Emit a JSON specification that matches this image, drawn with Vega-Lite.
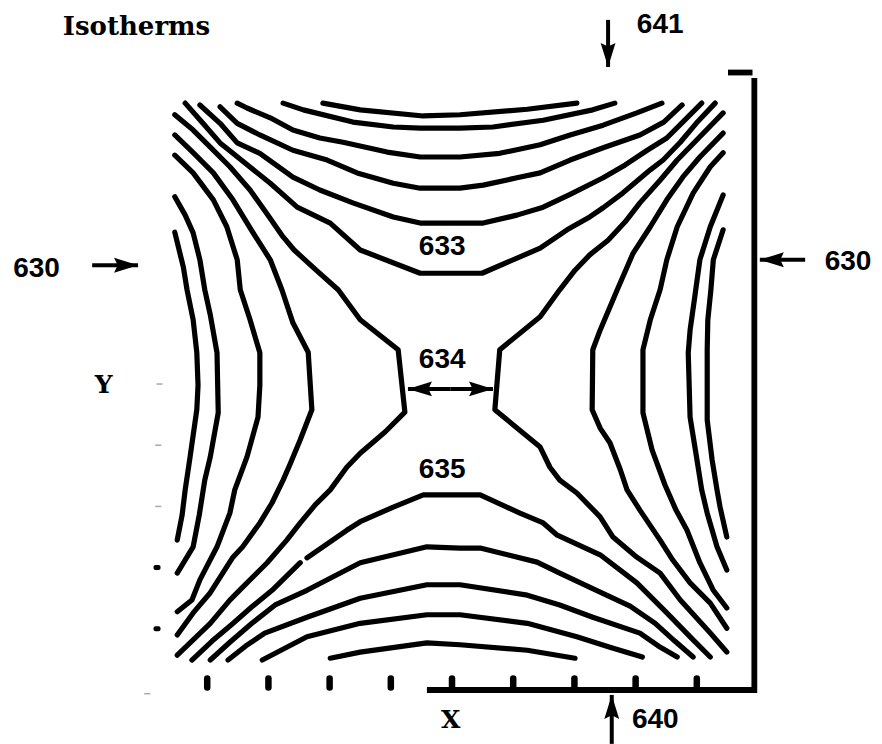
{
  "$schema": "https://vega.github.io/schema/vega-lite/v6.json",
  "width": 882,
  "height": 744,
  "padding": 0,
  "autosize": {"type": "none"},
  "background": "white",
  "config": {"view": {"stroke": null}},
  "datasets": {
    "isotherms": [
      {"curve":"t1","i":1,"x":2.89,"y":9.59},{"curve":"t1","i":2,"x":3.50,"y":9.48},{"curve":"t1","i":3,"x":4.53,"y":9.38},{"curve":"t1","i":4,"x":5.13,"y":9.40},{"curve":"t1","i":5,"x":6.23,"y":9.49},{"curve":"t1","i":6,"x":7.04,"y":9.59},
      {"curve":"t2","i":1,"x":2.24,"y":9.59},{"curve":"t2","i":2,"x":2.57,"y":9.48},{"curve":"t2","i":3,"x":3.38,"y":9.28},{"curve":"t2","i":4,"x":4.04,"y":9.20},{"curve":"t2","i":5,"x":4.48,"y":9.18},{"curve":"t2","i":6,"x":5.13,"y":9.18},{"curve":"t2","i":7,"x":5.67,"y":9.20},{"curve":"t2","i":8,"x":6.49,"y":9.31},{"curve":"t2","i":9,"x":7.30,"y":9.48},{"curve":"t2","i":10,"x":7.66,"y":9.59},
      {"curve":"t3","i":1,"x":1.49,"y":9.59},{"curve":"t3","i":2,"x":1.65,"y":9.51},{"curve":"t3","i":3,"x":2.03,"y":9.35},{"curve":"t3","i":4,"x":2.40,"y":9.15},{"curve":"t3","i":5,"x":2.84,"y":9.02},{"curve":"t3","i":6,"x":3.22,"y":8.95},{"curve":"t3","i":7,"x":3.94,"y":8.79},{"curve":"t3","i":8,"x":4.48,"y":8.71},{"curve":"t3","i":9,"x":5.13,"y":8.71},{"curve":"t3","i":10,"x":5.78,"y":8.77},{"curve":"t3","i":11,"x":6.44,"y":8.91},{"curve":"t3","i":12,"x":6.93,"y":9.07},{"curve":"t3","i":13,"x":7.47,"y":9.23},{"curve":"t3","i":14,"x":8.02,"y":9.43},{"curve":"t3","i":15,"x":8.43,"y":9.59},
      {"curve":"t4","i":1,"x":1.21,"y":9.53},{"curve":"t4","i":2,"x":1.49,"y":9.26},{"curve":"t4","i":3,"x":1.86,"y":9.07},{"curve":"t4","i":4,"x":2.40,"y":8.82},{"curve":"t4","i":5,"x":2.96,"y":8.66},{"curve":"t4","i":6,"x":3.45,"y":8.45},{"curve":"t4","i":7,"x":4.04,"y":8.28},{"curve":"t4","i":8,"x":4.48,"y":8.20},{"curve":"t4","i":9,"x":5.13,"y":8.20},{"curve":"t4","i":10,"x":5.51,"y":8.25},{"curve":"t4","i":11,"x":6.06,"y":8.37},{"curve":"t4","i":12,"x":6.44,"y":8.45},{"curve":"t4","i":13,"x":6.93,"y":8.66},{"curve":"t4","i":14,"x":7.47,"y":8.86},{"curve":"t4","i":15,"x":8.07,"y":9.07},{"curve":"t4","i":16,"x":8.46,"y":9.28},{"curve":"t4","i":17,"x":8.76,"y":9.56},
      {"curve":"t5","i":1,"x":0.88,"y":9.56},{"curve":"t5","i":2,"x":1.21,"y":9.26},{"curve":"t5","i":3,"x":1.49,"y":8.94},{"curve":"t5","i":4,"x":1.86,"y":8.77},{"curve":"t5","i":5,"x":2.40,"y":8.38},{"curve":"t5","i":6,"x":2.84,"y":8.17},{"curve":"t5","i":7,"x":3.38,"y":7.96},{"curve":"t5","i":8,"x":4.04,"y":7.73},{"curve":"t5","i":9,"x":4.48,"y":7.63},{"curve":"t5","i":10,"x":5.13,"y":7.63},{"curve":"t5","i":11,"x":5.51,"y":7.63},{"curve":"t5","i":12,"x":6.06,"y":7.76},{"curve":"t5","i":13,"x":6.49,"y":7.89},{"curve":"t5","i":14,"x":6.93,"y":8.10},{"curve":"t5","i":15,"x":7.47,"y":8.37},{"curve":"t5","i":16,"x":7.83,"y":8.58},{"curve":"t5","i":17,"x":8.19,"y":8.82},{"curve":"t5","i":18,"x":8.51,"y":9.02},{"curve":"t5","i":19,"x":8.79,"y":9.30},{"curve":"t5","i":20,"x":9.08,"y":9.59},
      {"curve":"633","i":1,"x":0.64,"y":9.59},{"curve":"633","i":2,"x":0.93,"y":9.26},{"curve":"633","i":3,"x":1.21,"y":8.94},{"curve":"633","i":4,"x":1.42,"y":8.77},{"curve":"633","i":5,"x":2.03,"y":8.28},{"curve":"633","i":6,"x":2.47,"y":7.89},{"curve":"633","i":7,"x":3.01,"y":7.63},{"curve":"633","i":8,"x":3.50,"y":7.19},{"curve":"633","i":9,"x":4.48,"y":6.81},{"curve":"633","i":10,"x":5.13,"y":6.81},{"curve":"633","i":11,"x":5.49,"y":6.81},{"curve":"633","i":12,"x":6.44,"y":7.22},{"curve":"633","i":13,"x":6.88,"y":7.52},{"curve":"633","i":14,"x":7.25,"y":7.73},{"curve":"633","i":15,"x":7.47,"y":7.88},{"curve":"633","i":16,"x":7.79,"y":8.12},{"curve":"633","i":17,"x":8.24,"y":8.50},{"curve":"633","i":18,"x":8.45,"y":8.66},{"curve":"633","i":19,"x":8.73,"y":8.95},{"curve":"633","i":20,"x":8.99,"y":9.26},{"curve":"633","i":21,"x":9.30,"y":9.59},
      {"curve":"634 W","i":1,"x":0.47,"y":9.40},{"curve":"634 W","i":2,"x":0.77,"y":9.15},{"curve":"634 W","i":3,"x":1.05,"y":8.87},{"curve":"634 W","i":4,"x":1.37,"y":8.55},{"curve":"634 W","i":5,"x":1.70,"y":8.17},{"curve":"634 W","i":6,"x":1.99,"y":7.76},{"curve":"634 W","i":7,"x":2.22,"y":7.43},{"curve":"634 W","i":8,"x":2.42,"y":7.19},{"curve":"634 W","i":9,"x":2.78,"y":6.86},{"curve":"634 W","i":10,"x":3.14,"y":6.54},{"curve":"634 W","i":11,"x":3.50,"y":6.05},{"curve":"634 W","i":12,"x":4.12,"y":5.56},{"curve":"634 W","i":13,"x":4.23,"y":4.54},{"curve":"634 W","i":14,"x":3.91,"y":4.22},{"curve":"634 W","i":15,"x":3.50,"y":3.87},{"curve":"634 W","i":16,"x":3.28,"y":3.64},{"curve":"634 W","i":17,"x":3.01,"y":3.27},{"curve":"634 W","i":18,"x":2.76,"y":3.02},{"curve":"634 W","i":19,"x":2.52,"y":2.73},{"curve":"634 W","i":20,"x":2.30,"y":2.45},{"curve":"634 W","i":21,"x":1.98,"y":2.08},{"curve":"634 W","i":22,"x":1.58,"y":1.68},{"curve":"634 W","i":23,"x":1.37,"y":1.47},{"curve":"634 W","i":24,"x":1.05,"y":1.09},{"curve":"634 W","i":25,"x":0.77,"y":0.82},{"curve":"634 W","i":26,"x":0.51,"y":0.57},
      {"curve":"634 E","i":1,"x":9.43,"y":9.43},{"curve":"634 E","i":2,"x":9.05,"y":9.04},{"curve":"634 E","i":3,"x":8.68,"y":8.66},{"curve":"634 E","i":4,"x":8.40,"y":8.33},{"curve":"634 E","i":5,"x":8.07,"y":7.96},{"curve":"634 E","i":6,"x":7.83,"y":7.65},{"curve":"634 E","i":7,"x":7.55,"y":7.35},{"curve":"634 E","i":8,"x":7.25,"y":7.11},{"curve":"634 E","i":9,"x":7.01,"y":6.86},{"curve":"634 E","i":10,"x":6.76,"y":6.54},{"curve":"634 E","i":11,"x":6.44,"y":6.10},{"curve":"634 E","i":12,"x":5.78,"y":5.56},{"curve":"634 E","i":13,"x":5.70,"y":4.58},{"curve":"634 E","i":14,"x":6.44,"y":3.97},{"curve":"634 E","i":15,"x":6.60,"y":3.64},{"curve":"634 E","i":16,"x":6.76,"y":3.43},{"curve":"634 E","i":17,"x":7.04,"y":3.22},{"curve":"634 E","i":18,"x":7.42,"y":2.83},{"curve":"634 E","i":19,"x":7.63,"y":2.50},{"curve":"634 E","i":20,"x":8.02,"y":2.17},{"curve":"634 E","i":21,"x":8.40,"y":1.91},{"curve":"634 E","i":22,"x":8.73,"y":1.47},{"curve":"634 E","i":23,"x":9.22,"y":0.93},{"curve":"634 E","i":24,"x":9.49,"y":0.62},
      {"curve":"w1","i":1,"x":0.47,"y":9.07},{"curve":"w1","i":2,"x":0.77,"y":8.78},{"curve":"w1","i":3,"x":1.10,"y":8.45},{"curve":"w1","i":4,"x":1.42,"y":8.01},{"curve":"w1","i":5,"x":1.75,"y":7.47},{"curve":"w1","i":6,"x":2.03,"y":7.03},{"curve":"w1","i":7,"x":2.22,"y":6.54},{"curve":"w1","i":8,"x":2.40,"y":6.00},{"curve":"w1","i":9,"x":2.65,"y":5.52},{"curve":"w1","i":10,"x":2.71,"y":4.58},{"curve":"w1","i":11,"x":2.52,"y":4.09},{"curve":"w1","i":12,"x":2.35,"y":3.68},{"curve":"w1","i":13,"x":2.24,"y":3.43},{"curve":"w1","i":14,"x":2.06,"y":3.06},{"curve":"w1","i":15,"x":1.86,"y":2.73},{"curve":"w1","i":16,"x":1.58,"y":2.34},{"curve":"w1","i":17,"x":1.42,"y":2.17},{"curve":"w1","i":18,"x":1.05,"y":1.59},{"curve":"w1","i":19,"x":0.77,"y":1.26},{"curve":"w1","i":20,"x":0.51,"y":0.90},
      {"curve":"w2","i":1,"x":0.47,"y":8.74},{"curve":"w2","i":2,"x":0.77,"y":8.45},{"curve":"w2","i":3,"x":1.10,"y":8.01},{"curve":"w2","i":4,"x":1.32,"y":7.57},{"curve":"w2","i":5,"x":1.49,"y":7.03},{"curve":"w2","i":6,"x":1.54,"y":6.54},{"curve":"w2","i":7,"x":1.70,"y":6.05},{"curve":"w2","i":8,"x":1.86,"y":5.51},{"curve":"w2","i":9,"x":1.86,"y":4.98},{"curve":"w2","i":10,"x":1.83,"y":4.46},{"curve":"w2","i":11,"x":1.65,"y":3.81},{"curve":"w2","i":12,"x":1.45,"y":3.27},{"curve":"w2","i":13,"x":1.37,"y":2.89},{"curve":"w2","i":14,"x":1.16,"y":2.34},{"curve":"w2","i":15,"x":0.88,"y":1.80},{"curve":"w2","i":16,"x":0.75,"y":1.47},{"curve":"w2","i":17,"x":0.51,"y":1.28},
      {"curve":"w3","i":1,"x":0.47,"y":8.06},{"curve":"w3","i":2,"x":0.64,"y":7.76},{"curve":"w3","i":3,"x":0.77,"y":7.47},{"curve":"w3","i":4,"x":0.88,"y":7.03},{"curve":"w3","i":5,"x":0.96,"y":6.54},{"curve":"w3","i":6,"x":1.05,"y":6.13},{"curve":"w3","i":7,"x":1.16,"y":5.51},{"curve":"w3","i":8,"x":1.18,"y":4.53},{"curve":"w3","i":9,"x":1.05,"y":3.81},{"curve":"w3","i":10,"x":0.96,"y":3.43},{"curve":"w3","i":11,"x":0.87,"y":2.86},{"curve":"w3","i":12,"x":0.77,"y":2.34},{"curve":"w3","i":13,"x":0.51,"y":1.91},
      {"curve":"w4","i":1,"x":0.47,"y":7.48},{"curve":"w4","i":2,"x":0.61,"y":6.91},{"curve":"w4","i":3,"x":0.67,"y":6.54},{"curve":"w4","i":4,"x":0.77,"y":6.05},{"curve":"w4","i":5,"x":0.83,"y":5.51},{"curve":"w4","i":6,"x":0.85,"y":4.98},{"curve":"w4","i":7,"x":0.83,"y":4.58},{"curve":"w4","i":8,"x":0.72,"y":3.81},{"curve":"w4","i":9,"x":0.64,"y":3.27},{"curve":"w4","i":10,"x":0.59,"y":2.86},{"curve":"w4","i":11,"x":0.51,"y":2.45},
      {"curve":"e1","i":1,"x":9.43,"y":9.10},{"curve":"e1","i":2,"x":9.05,"y":8.71},{"curve":"e1","i":3,"x":8.77,"y":8.38},{"curve":"e1","i":4,"x":8.51,"y":8.01},{"curve":"e1","i":5,"x":8.24,"y":7.57},{"curve":"e1","i":6,"x":7.96,"y":7.14},{"curve":"e1","i":7,"x":7.70,"y":6.54},{"curve":"e1","i":8,"x":7.42,"y":5.88},{"curve":"e1","i":9,"x":7.30,"y":5.56},{"curve":"e1","i":10,"x":7.29,"y":4.58},{"curve":"e1","i":11,"x":7.42,"y":4.28},{"curve":"e1","i":12,"x":7.58,"y":4.04},{"curve":"e1","i":13,"x":7.75,"y":3.60},{"curve":"e1","i":14,"x":7.86,"y":3.27},{"curve":"e1","i":15,"x":8.07,"y":2.94},{"curve":"e1","i":16,"x":8.40,"y":2.45},{"curve":"e1","i":17,"x":8.61,"y":2.12},{"curve":"e1","i":18,"x":8.89,"y":1.75},{"curve":"e1","i":19,"x":9.22,"y":1.42},{"curve":"e1","i":20,"x":9.49,"y":1.01},
      {"curve":"e2","i":1,"x":9.43,"y":8.78},{"curve":"e2","i":2,"x":9.22,"y":8.55},{"curve":"e2","i":3,"x":8.94,"y":8.12},{"curve":"e2","i":4,"x":8.68,"y":7.57},{"curve":"e2","i":5,"x":8.51,"y":7.03},{"curve":"e2","i":6,"x":8.40,"y":6.54},{"curve":"e2","i":7,"x":8.24,"y":6.05},{"curve":"e2","i":8,"x":8.12,"y":5.56},{"curve":"e2","i":9,"x":8.12,"y":4.53},{"curve":"e2","i":10,"x":8.27,"y":3.92},{"curve":"e2","i":11,"x":8.48,"y":3.35},{"curve":"e2","i":12,"x":8.66,"y":2.94},{"curve":"e2","i":13,"x":8.84,"y":2.61},{"curve":"e2","i":14,"x":9.05,"y":2.08},{"curve":"e2","i":15,"x":9.27,"y":1.63},{"curve":"e2","i":16,"x":9.49,"y":1.34},
      {"curve":"e3","i":1,"x":9.43,"y":8.09},{"curve":"e3","i":2,"x":9.22,"y":7.57},{"curve":"e3","i":3,"x":9.05,"y":7.03},{"curve":"e3","i":4,"x":8.97,"y":6.45},{"curve":"e3","i":5,"x":8.89,"y":5.88},{"curve":"e3","i":6,"x":8.86,"y":5.51},{"curve":"e3","i":7,"x":8.89,"y":4.46},{"curve":"e3","i":8,"x":8.99,"y":3.84},{"curve":"e3","i":9,"x":9.08,"y":3.27},{"curve":"e3","i":10,"x":9.17,"y":2.89},{"curve":"e3","i":11,"x":9.33,"y":2.34},{"curve":"e3","i":12,"x":9.49,"y":1.96},
      {"curve":"e4","i":1,"x":9.43,"y":7.52},{"curve":"e4","i":2,"x":9.27,"y":7.03},{"curve":"e4","i":3,"x":9.23,"y":6.54},{"curve":"e4","i":4,"x":9.18,"y":6.05},{"curve":"e4","i":5,"x":9.17,"y":5.56},{"curve":"e4","i":6,"x":9.17,"y":4.41},{"curve":"e4","i":7,"x":9.25,"y":3.76},{"curve":"e4","i":8,"x":9.33,"y":3.27},{"curve":"e4","i":9,"x":9.38,"y":2.99},{"curve":"e4","i":10,"x":9.49,"y":2.50},
      {"curve":"635 a","i":1,"x":0.75,"y":0.49},{"curve":"635 a","i":2,"x":1.08,"y":0.80},{"curve":"635 a","i":3,"x":1.41,"y":1.08},{"curve":"635 a","i":4,"x":1.73,"y":1.36},{"curve":"635 a","i":5,"x":2.06,"y":1.63},{"curve":"635 a","i":6,"x":2.52,"y":2.08},
      {"curve":"635 b","i":1,"x":2.63,"y":2.16},{"curve":"635 b","i":2,"x":3.28,"y":2.61},{"curve":"635 b","i":3,"x":3.50,"y":2.75},{"curve":"635 b","i":4,"x":4.04,"y":2.99},{"curve":"635 b","i":5,"x":4.53,"y":3.19},{"curve":"635 b","i":6,"x":5.13,"y":3.19},{"curve":"635 b","i":7,"x":5.46,"y":3.19},{"curve":"635 b","i":8,"x":6.11,"y":2.89},{"curve":"635 b","i":9,"x":6.49,"y":2.73},{"curve":"635 b","i":10,"x":6.72,"y":2.53},{"curve":"635 b","i":11,"x":7.42,"y":2.21},{"curve":"635 b","i":12,"x":8.02,"y":1.75},{"curve":"635 b","i":13,"x":8.51,"y":1.26},{"curve":"635 b","i":14,"x":8.94,"y":0.82},{"curve":"635 b","i":15,"x":9.22,"y":0.54},
      {"curve":"b1","i":1,"x":1.05,"y":0.49},{"curve":"b1","i":2,"x":1.37,"y":0.78},{"curve":"b1","i":3,"x":1.73,"y":1.09},{"curve":"b1","i":4,"x":2.11,"y":1.39},{"curve":"b1","i":5,"x":2.63,"y":1.63},{"curve":"b1","i":6,"x":3.50,"y":2.08},{"curve":"b1","i":7,"x":4.59,"y":2.34},{"curve":"b1","i":8,"x":5.13,"y":2.32},{"curve":"b1","i":9,"x":5.46,"y":2.32},{"curve":"b1","i":10,"x":6.39,"y":2.09},{"curve":"b1","i":11,"x":6.76,"y":1.91},{"curve":"b1","i":12,"x":7.42,"y":1.60},{"curve":"b1","i":13,"x":7.91,"y":1.37},{"curve":"b1","i":14,"x":8.32,"y":1.09},{"curve":"b1","i":15,"x":8.64,"y":0.80},{"curve":"b1","i":16,"x":8.94,"y":0.54},
      {"curve":"b2","i":1,"x":1.34,"y":0.49},{"curve":"b2","i":2,"x":1.63,"y":0.72},{"curve":"b2","i":3,"x":1.94,"y":0.93},{"curve":"b2","i":4,"x":2.63,"y":1.19},{"curve":"b2","i":5,"x":3.50,"y":1.50},{"curve":"b2","i":6,"x":4.59,"y":1.72},{"curve":"b2","i":7,"x":5.13,"y":1.72},{"curve":"b2","i":8,"x":6.23,"y":1.55},{"curve":"b2","i":9,"x":6.76,"y":1.39},{"curve":"b2","i":10,"x":7.30,"y":1.19},{"curve":"b2","i":11,"x":8.07,"y":0.93},{"curve":"b2","i":12,"x":8.37,"y":0.72},{"curve":"b2","i":13,"x":8.68,"y":0.54},
      {"curve":"b3","i":1,"x":1.90,"y":0.49},{"curve":"b3","i":2,"x":2.63,"y":0.87},{"curve":"b3","i":3,"x":3.50,"y":1.09},{"curve":"b3","i":4,"x":4.59,"y":1.23},{"curve":"b3","i":5,"x":5.13,"y":1.23},{"curve":"b3","i":6,"x":6.23,"y":1.09},{"curve":"b3","i":7,"x":7.04,"y":0.87},{"curve":"b3","i":8,"x":7.58,"y":0.70},{"curve":"b3","i":9,"x":8.11,"y":0.54},
      {"curve":"b4","i":1,"x":3.01,"y":0.52},{"curve":"b4","i":2,"x":3.50,"y":0.62},{"curve":"b4","i":3,"x":4.59,"y":0.77},{"curve":"b4","i":4,"x":5.13,"y":0.74},{"curve":"b4","i":5,"x":6.23,"y":0.65},{"curve":"b4","i":6,"x":7.01,"y":0.52}
    ],
    "frame": [
      {"part":"axis","i":1,"x":4.59,"y":0},
      {"part":"axis","i":2,"x":9.94,"y":0},
      {"part":"axis","i":3,"x":9.94,"y":10.0},
      {"part":"cap","i":1,"x":9.51,"y":10.09},
      {"part":"cap","i":2,"x":9.91,"y":10.09}
    ],
    "bottomTicks": [{"x":1,"y":0.04,"y2":0.19},{"x":2,"y":0.04,"y2":0.19},{"x":3,"y":0.04,"y2":0.19},{"x":4,"y":0.04,"y2":0.19},{"x":5,"y":0.04,"y2":0.19},{"x":6,"y":0.04,"y2":0.19},{"x":7,"y":0.04,"y2":0.19},{"x":8,"y":0.04,"y2":0.19},{"x":9,"y":0.04,"y2":0.19}],
    "leftTicksBold": [{"x":0.18,"y":1},{"x":0.18,"y":2}],
    "leftTicksFaint": [{"x":0.2,"y":3},{"x":0.2,"y":4},{"x":0.22,"y":5},{"x":0.02,"y":-0.06}],
    "arrows": [
      {"name":"641","x":7.55,"y":10.95,"x2":7.55,"y2":10.18},
      {"name":"630 W","x":-0.88,"y":6.94,"x2":-0.13,"y2":6.94},
      {"name":"630 E","x":10.77,"y":7.03,"x2":10.03,"y2":7.03},
      {"name":"640","x":7.61,"y":-0.88,"x2":7.61,"y2":-0.08},
      {"name":"634 width","x":4.98,"y":4.92,"x2":4.28,"y2":4.92},
      {"name":"634 width","x":4.98,"y":4.92,"x2":5.67,"y2":4.92}
    ],
    "contourLabels": [
      {"text":"633","x":4.84,"y":7.11},
      {"text":"634","x":4.84,"y":5.26},
      {"text":"635","x":4.84,"y":3.46}
    ],
    "edgeLabels": [
      {"text":"641","x":8.02,"y":10.74},
      {"text":"630","x":-2.17,"y":6.75},
      {"text":"630","x":11.09,"y":6.86},
      {"text":"640","x":7.94,"y":-0.62}
    ],
    "axisNames": [
      {"text":"X","x":4.98,"y":-0.62},
      {"text":"Y","x":-0.69,"y":4.85}
    ],
    "heading": [{"text":"Isotherms","x":-1.36,"y":10.70}]
  },
  "encoding": {
    "x": {"field":"x","type":"quantitative","axis":null,"scale":{"domain":[-2.386,12.026],"nice":false,"zero":false}},
    "y": {"field":"y","type":"quantitative","axis":null,"scale":{"domain":[-0.882,11.275],"nice":false,"zero":false}}
  },
  "layer": [
    {
      "data": {"name":"isotherms"},
      "mark": {"type":"line","color":"black","strokeWidth":5.2,"strokeCap":"round","strokeJoin":"round"},
      "encoding": {
        "detail": {"field":"curve","type":"nominal"},
        "order": {"field":"i","type":"quantitative"}
      }
    },
    {
      "data": {"name":"frame"},
      "mark": {"type":"line","color":"black","strokeWidth":5.8,"strokeCap":"butt","strokeJoin":"miter"},
      "encoding": {
        "detail": {"field":"part","type":"nominal"},
        "order": {"field":"i","type":"quantitative"}
      }
    },
    {
      "data": {"name":"bottomTicks"},
      "mark": {"type":"rule","color":"black","strokeWidth":6.5,"strokeCap":"round"},
      "encoding": {"y2": {"field":"y2"}}
    },
    {
      "data": {"name":"leftTicksBold"},
      "mark": {"type":"tick","orient":"horizontal","color":"black","opacity":1,"size":7,"thickness":5,"cornerRadius":2}
    },
    {
      "data": {"name":"leftTicksFaint"},
      "mark": {"type":"tick","orient":"horizontal","color":"#a8a8a8","opacity":1,"size":6,"thickness":1.5}
    },
    {
      "data": {"name":"arrows"},
      "mark": {"type":"rule","color":"black","strokeWidth":4},
      "encoding": {
        "x2": {"field":"x2"},
        "y2": {"field":"y2"}
      }
    },
    {
      "data": {"name":"arrows"},
      "transform": [{"filter":"datum.x2 > datum.x"}],
      "mark": {"type":"point","shape":"M0,0L-2,-0.62L-1.7,0L-2,0.62Z","filled":true,"color":"black","opacity":1,"size":576,"strokeWidth":0},
      "encoding": {
        "x": {"field":"x2","type":"quantitative"},
        "y": {"field":"y2","type":"quantitative"}
      }
    },
    {
      "data": {"name":"arrows"},
      "transform": [{"filter":"datum.x2 < datum.x"}],
      "mark": {"type":"point","shape":"M0,0L2,-0.62L1.7,0L2,0.62Z","filled":true,"color":"black","opacity":1,"size":576,"strokeWidth":0},
      "encoding": {
        "x": {"field":"x2","type":"quantitative"},
        "y": {"field":"y2","type":"quantitative"}
      }
    },
    {
      "data": {"name":"arrows"},
      "transform": [{"filter":"datum.y2 < datum.y"}],
      "mark": {"type":"point","shape":"M0,0L-0.62,-2L0,-1.7L0.62,-2Z","filled":true,"color":"black","opacity":1,"size":576,"strokeWidth":0},
      "encoding": {
        "x": {"field":"x2","type":"quantitative"},
        "y": {"field":"y2","type":"quantitative"}
      }
    },
    {
      "data": {"name":"arrows"},
      "transform": [{"filter":"datum.y2 > datum.y"}],
      "mark": {"type":"point","shape":"M0,0L-0.62,2L0,1.7L0.62,2Z","filled":true,"color":"black","opacity":1,"size":576,"strokeWidth":0},
      "encoding": {
        "x": {"field":"x2","type":"quantitative"},
        "y": {"field":"y2","type":"quantitative"}
      }
    },
    {
      "data": {"name":"contourLabels"},
      "mark": {"type":"text","font":"Liberation Sans","fontSize":28,"fontWeight":"bold","align":"center","baseline":"alphabetic","color":"black"},
      "encoding": {"text": {"field":"text","type":"nominal"}}
    },
    {
      "data": {"name":"edgeLabels"},
      "mark": {"type":"text","font":"Liberation Sans","fontSize":28,"fontWeight":"bold","align":"left","baseline":"alphabetic","color":"black"},
      "encoding": {"text": {"field":"text","type":"nominal"}}
    },
    {
      "data": {"name":"axisNames"},
      "mark": {"type":"text","font":"DejaVu Serif","fontSize":25,"fontWeight":"bold","align":"center","baseline":"alphabetic","color":"black"},
      "encoding": {"text": {"field":"text","type":"nominal"}}
    },
    {
      "data": {"name":"heading"},
      "mark": {"type":"text","font":"DejaVu Serif","fontSize":26,"fontWeight":"bold","align":"left","baseline":"alphabetic","color":"black"},
      "encoding": {"text": {"field":"text","type":"nominal"}}
    }
  ]
}
